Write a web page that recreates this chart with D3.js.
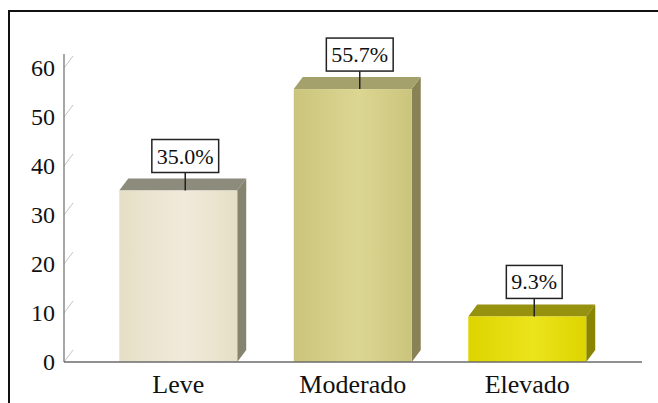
<!DOCTYPE html>
<html>
<head>
<meta charset="utf-8">
<script src="https://cdn.jsdelivr.net/npm/d3@7"></script>
<style>
  html, body { margin: 0; padding: 0; background: #fff; }
  svg { display: block; }
  text { font-family: "Liberation Serif", "Times New Roman", "DejaVu Serif", serif; fill: #111; }
</style>
</head>
<body>
<svg id="chart" width="658" height="403"></svg>
<script>
// Severity categories and their percentages
const categories = ["Leve", "Moderado", "Elevado"];
const values = [35.0, 55.7, 9.3];
const valueLabels = ["35.0%", "55.7%", "9.3%"];
const yTicks = [0, 10, 20, 30, 40, 50, 60];

// Face colours per bar: front (two gradient stops), top, side
const frontA = ["#e6dfc6", "#cbc47c", "#ddd400"];
const frontB = ["#f1eadb", "#dcd693", "#ece41c"];
const topFill = ["#8d8c7c", "#a4a16c", "#979110"];
const sideFill = ["#85846f", "#888254", "#8a8500"];

const serif = '"Liberation Serif", "Times New Roman", "DejaVu Serif", serif';
const svg = d3.select("#chart");
const W = 658, H = 403;
const depth = { dx: 9, dy: -12 };

// Outer frame (left and top edges)
svg.append("path")
  .attr("d", `M9,${H} L9,11 L${W},11`)
  .attr("fill", "none").attr("stroke", "#111").attr("stroke-width", 2);

const y = d3.scaleLinear().domain([0, 60]).range([362, 68]);
const x = d3.scaleBand().domain(categories).range([91, 614.5])
  .paddingInner(0.324).paddingOuter(0.162);

const axisX = 64;

// Gradients for front faces
const defs = svg.append("defs");
categories.forEach((c, i) => {
  const g = defs.append("linearGradient").attr("id", "front" + i)
    .attr("x1", "0").attr("x2", "1").attr("y1", "0").attr("y2", "0");
  g.append("stop").attr("offset", "0").attr("stop-color", frontA[i]);
  g.append("stop").attr("offset", "0.55").attr("stop-color", frontB[i]);
  g.append("stop").attr("offset", "1").attr("stop-color", frontA[i]);
});

// Depth strokes on the back wall at each tick
svg.append("g").selectAll("line").data(yTicks).join("line")
  .attr("x1", axisX).attr("y1", d => y(d))
  .attr("x2", axisX + depth.dx).attr("y2", d => y(d) + depth.dy)
  .attr("stroke", "#c4c4c4").attr("stroke-width", 1);

// Y axis
const yAxis = d3.axisLeft(y).tickValues(yTicks).tickSize(0).tickPadding(9);
const gy = svg.append("g").attr("transform", `translate(${axisX},0)`).call(yAxis);
gy.select(".domain").remove();
gy.attr("font-family", serif);
gy.selectAll("text")
  .attr("font-size", 24)
  .style("font-family", serif)
  .attr("fill", "#111");
svg.append("line")
  .attr("x1", axisX).attr("x2", axisX)
  .attr("y1", 54).attr("y2", y(0))
  .attr("stroke", "#777").attr("stroke-width", 1.3);

// Bars as extruded boxes
const bars = svg.append("g").selectAll("g").data(categories).join("g");
bars.each(function (c, i) {
  const g = d3.select(this);
  const x0 = x(c), x1 = x(c) + x.bandwidth();
  const yt = y(values[i]), yb = y(0);
  const { dx, dy } = depth;
  // side face
  g.append("path")
    .attr("d", `M${x1},${yt} L${x1 + dx},${yt + dy} L${x1 + dx},${yb + dy} L${x1},${yb} Z`)
    .attr("fill", sideFill[i]);
  // top face
  g.append("path")
    .attr("d", `M${x0},${yt} L${x0 + dx},${yt + dy} L${x1 + dx},${yt + dy} L${x1},${yt} Z`)
    .attr("fill", topFill[i]);
  // front face
  g.append("rect")
    .attr("x", x0).attr("y", yt)
    .attr("width", x.bandwidth()).attr("height", yb - yt)
    .attr("fill", `url(#front${i})`);
});

// X axis baseline
svg.append("line")
  .attr("x1", axisX).attr("x2", 642)
  .attr("y1", y(0)).attr("y2", y(0))
  .attr("stroke", "#6b6b6b").attr("stroke-width", 1.5);

// Category labels
const xAxis = d3.axisBottom(x).tickSize(0).tickPadding(0);
const gx = svg.append("g").attr("transform", `translate(0,${y(0)})`).call(xAxis);
gx.select(".domain").remove();
gx.attr("font-family", serif);
gx.selectAll("text")
  .attr("font-size", 26)
  .attr("dy", null)
  .attr("y", 31)
  .style("font-family", serif)
  .attr("fill", "#111");

// Value callouts with leader lines
const leader = 18, boxH = 33, padX = 5;
const labels = svg.append("g").selectAll("g").data(categories).join("g");
labels.each(function (c, i) {
  const g = d3.select(this);
  const cx = x(c) + x.bandwidth() / 2 + 7;
  const yt = y(values[i]);
  const boxBottom = yt - leader;
  g.append("line")
    .attr("x1", cx).attr("x2", cx)
    .attr("y1", boxBottom).attr("y2", yt)
    .attr("stroke", "#222").attr("stroke-width", 1.5);
  const t = g.append("text")
    .attr("x", cx).attr("y", boxBottom - boxH / 2)
    .attr("text-anchor", "middle").attr("dominant-baseline", "central")
    .attr("font-size", 22)
    .text(valueLabels[i]);
  const w = t.node().getComputedTextLength() + padX * 2;
  g.insert("rect", "text")
    .attr("x", cx - w / 2).attr("y", boxBottom - boxH)
    .attr("width", w).attr("height", boxH)
    .attr("fill", "#fff").attr("stroke", "#222").attr("stroke-width", 1.5);
});
</script>
</body>
</html>
